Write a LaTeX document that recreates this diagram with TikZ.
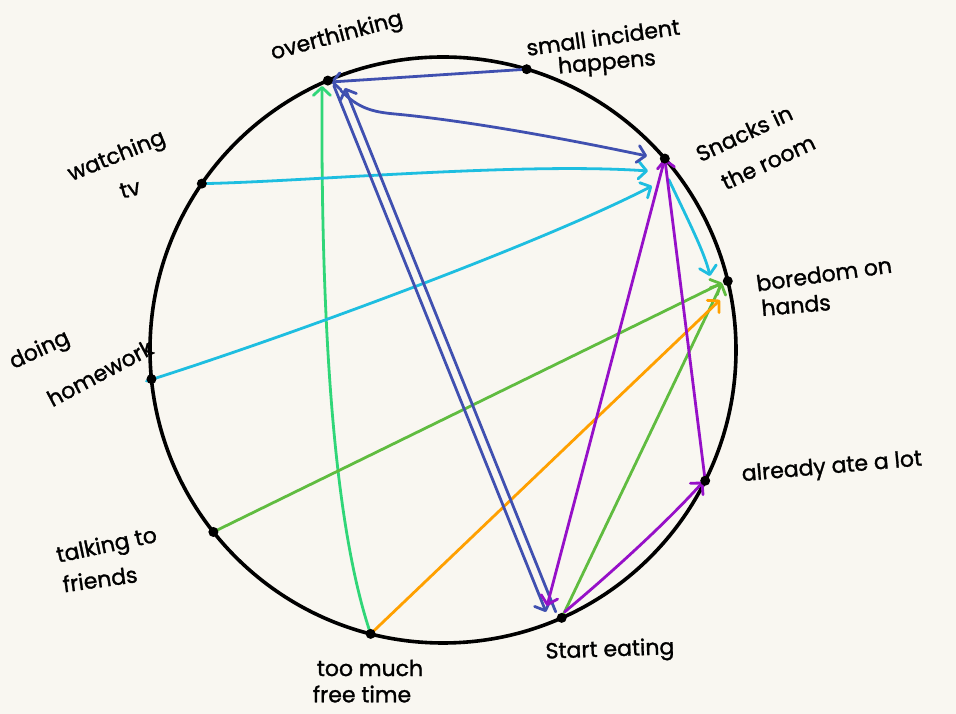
\documentclass[tikz,border=0pt]{standalone}
\usepackage{fontspec}
\setmainfont{Poppins}
\newfontfamily\hand{Poppins}[FakeBold=1.3]
\usetikzlibrary{arrows.meta,calc}
\definecolor{bgc}{RGB}{249,247,241}
\definecolor{blueC}{RGB}{64,80,176}
\definecolor{cyanC}{RGB}{30,190,224}
\definecolor{greenL}{RGB}{48,214,120}
\definecolor{greenD}{RGB}{96,188,64}
\definecolor{orangeC}{RGB}{255,160,0}
\definecolor{purpleC}{RGB}{150,16,200}
\tikzset{
  con/.style={line width=2.8pt, line cap=round, line join=round,
    -{Straight Barb[length=8pt,width=17pt,line cap=round,line join=round]}},
  lbl/.style={font=\hand\fontsize{22}{26}\selectfont, inner sep=0pt},
  dotc/.style={fill=black}
}
\begin{document}
\begin{tikzpicture}[x=1pt,y=1pt]
\fill[bgc] (0,0) rectangle (956,714);
\useasboundingbox (0,0) rectangle (956,714);
\coordinate (C) at (443,364);
\draw[line width=3.6pt] (C) circle (293);
% nodes on the circle
\coordinate (OV) at ($(C)+(113.15:293)$);
\coordinate (SI) at ($(C)+(73.4:293)$);
\coordinate (SN) at ($(C)+(40.8:293)$);
\coordinate (BO) at ($(C)+(13.6:293)$);
\coordinate (AL) at ($(C)+(-26.5:293)$);
\coordinate (SE) at ($(C)+(-66.1:293)$);
\coordinate (TM) at ($(C)+(-104.3:293)$);
\coordinate (TF) at ($(C)+(-141.6:293)$);
\coordinate (DH) at ($(C)+(185.7:293)$);
\coordinate (WT) at ($(C)+(145.4:293)$);
% arrow tips
\coordinate (OVa) at (331,632);
\coordinate (OVb) at (345,626);
\coordinate (OVc) at (322,628);
\coordinate (SNa) at (647,558);
\coordinate (SNb) at (648,543);
\coordinate (SNc) at (652,528);
\coordinate (SEa) at (546,102);
\coordinate (SEb) at (547,108);
\coordinate (BOa) at (710,438);
\coordinate (BOb) at (722,431);
\coordinate (BOc) at (720,414);
\coordinate (ALa) at (703,232);
\coordinate (OVk) at (395,600);
% connectors
\draw[con,greenL] (TM) .. controls (330,200) and (321,420) .. (OVc);
\draw[con,cyanC] (WT) .. controls (300,532) and (520,552) .. (SNb);
\draw[con,cyanC] ($(DH)+(-5,-2)$) .. controls (280,375) and (540,470) .. (SNc);
\draw[con,cyanC] ($(SN)+(4,-21)$) .. controls (690,490) and (705,460) .. (BOa);
\draw[con,greenD] (TF) -- (BOb);
\draw[con,greenD] (SE) -- (BOb);
\draw[con,orangeC] (TM) -- (BOc);
\draw[con,blueC] (SI) -- (OVa);
\draw[con,blueC] ($(OV)+(13,-10)$) .. controls (358,606) and (372,602) .. (OVk)
   .. controls (480,592) and (590,570) .. (SNa);
\draw[con,blueC] ($(OV)+(6,-5)$) -- (SEa);
\draw[con,blueC] ($(SE)+(-6,6)$) -- (OVb);
\draw[con,purpleC] (SN) -- (SEb);
\draw[con,purpleC] ($(SE)+(3,6)$) .. controls (610,140) and (665,190) .. (ALa);
\draw[con,purpleC] (AL) -- (SN);
% dots
\foreach \p in {OV,SI,SN,BO,AL,SE,TM,TF,DH,WT}{\fill[dotc] (\p) circle (5);}
% labels
\node[lbl,rotate=15] (tOV) at (337,677) {overthinking};
\node[lbl,rotate=8] (tSI1) at (603,677) {small incident};
\node[lbl,rotate=5] (tSI2) at (607,650) {happens};
\node[lbl,rotate=25] (tSN1) at (744,581) {Snacks in};
\node[lbl,rotate=25] (tSN2) at (768,552) {the room};
\node[lbl,rotate=8] (tBO1) at (824,440) {boredom on};
\node[lbl,rotate=5] (tBO2) at (796,409) {hands};
\node[lbl,rotate=5] (tAL) at (832,246) {already ate a lot};
\node[lbl,rotate=2] (tSE) at (610,63) {Start eating};
\node[lbl] (tTM1) at (370,46) {too much};
\node[lbl] (tTM2) at (362,20) {free time};
\node[lbl,rotate=12] (tTF1) at (107,167) {talking to};
\node[lbl,rotate=8] (tTF2) at (100,135) {friends};
\node[lbl,rotate=25] (tDH1) at (40,363) {doing};
\node[lbl,rotate=28] (tDH2) at (100,341) {homework};
\node[lbl,rotate=22] (tWT1) at (117,557) {watching};
\node[lbl,rotate=15] (tWT2) at (130,525) {tv};
\end{tikzpicture}
\end{document}
